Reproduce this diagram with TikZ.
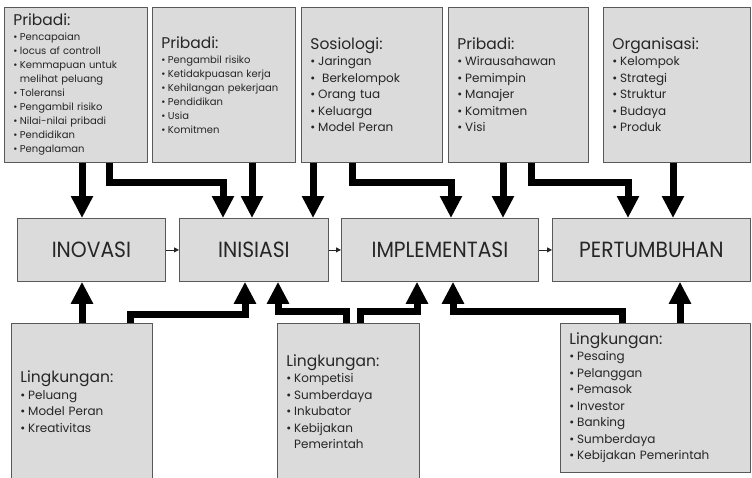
\documentclass[tikz,border=0pt]{standalone}
\usepackage{fontspec}
\setmainfont{Poppins}
\newfontfamily\condfont[FakeStretch=0.92]{Poppins}
\usetikzlibrary{arrows.meta}
\newcommand\itS{\fontsize{10}{14}\selectfont}
\newcommand\itL{\fontsize{12}{16.5}\selectfont}
\newcommand\hd{\fontsize{15.5}{18}\selectfont}
\newcommand\bl{\makebox[0.65em][l]{\textbullet}}
\tikzset{
  box/.style={draw=black!65, fill=black!14, line width=0.8pt, anchor=north west,
    inner xsep=9pt, inner ysep=0pt, align=left, text=black!85},
  big/.style={line width=7pt, -{Triangle[width=21pt,length=22pt]}},
  thinarr/.style={line width=0.8pt, black!85, -{Triangle[width=5pt,length=5pt]}},
  stage/.style={draw=black!65, fill=black!14, line width=0.8pt, anchor=north west,
    minimum height=63pt, inner sep=0pt, font=\condfont\fontsize{22}{24}\selectfont, text=black!85},
}
\begin{document}
\begin{tikzpicture}[x=1pt,y=-1pt]
\useasboundingbox (0,0) rectangle (752,477);
\fill[white] (0,0) rectangle (752,477);
% top boxes
\node[box, minimum width=143, minimum height=155, text width=125, font=\itS] (t1) at (4,7)
 {{\hd Pribadi:}\\[1pt]
  \bl Pencapaian\\
  \bl locus af controll\\
  \bl Kemmapuan untuk\\
  \hspace*{0.65em}melihat peluang\\
  \bl Toleransi\\
  \bl Pengambil risiko\\
  \bl Nilai-nilai pribadi\\
  \bl Pendidikan\\
  \bl Pengalaman};
\node[box, minimum width=143, minimum height=155, text width=125, font=\itS] (t2) at (152,7)
 {{\hd Pribadi:}\\[1pt]
  \bl Pengambil risiko\\
  \bl Ketidakpuasan kerja\\
  \bl Kehilangan pekerjaan\\
  \bl Pendidikan\\
  \bl Usia\\
  \bl Komitmen};
\node[box, minimum width=141, minimum height=155, text width=123, font=\itL] (t3) at (301,7)
 {{\hd Sosiologi:}\\
  \bl Jaringan\\
  \bl\ Berkelompok\\
  \bl Orang tua\\
  \bl Keluarga\\
  \bl Model Peran};
\node[box, minimum width=140, minimum height=155, text width=122, font=\itL] (t4) at (448,7)
 {{\hd Pribadi:}\\
  \bl Wirausahawan\\
  \bl Pemimpin\\
  \bl Manajer\\
  \bl Komitmen\\
  \bl Visi};
\node[box, minimum width=147, minimum height=155, text width=129, font=\itL] (t5) at (603,7)
 {{\hd Organisasi:}\\
  \bl Kelompok\\
  \bl Strategi\\
  \bl Struktur\\
  \bl Budaya\\
  \bl Produk};
% stages
\node[stage, minimum width=148] (m1) at (17,218) {INOVASI};
\node[stage, minimum width=149] (m2) at (179,218) {INISIASI};
\node[stage, minimum width=197] (m3) at (341,218) {IMPLEMENTASI};
\node[stage, minimum width=198] (m4) at (552,218) {PERTUMBUHAN};
% bottom boxes
\node[box, minimum width=141, minimum height=156, text width=123, font=\itL] (b1) at (11,323)
 {{\hd Lingkungan:}\\
  \bl Peluang\\
  \bl Model Peran\\
  \bl Kreativitas};
\node[box, minimum width=142, minimum height=156, text width=124, font=\itL] (b2) at (277,323)
 {{\hd Lingkungan:}\\
  \bl Kompetisi\\
  \bl Sumberdaya\\
  \bl Inkubator\\
  \bl Kebijakan\\
  \hspace*{0.65em}Pemerintah};
\node[box, minimum width=190, minimum height=149, text width=172, font=\itL] (b3) at (560,323)
 {{\hd Lingkungan:}\\
  \bl Pesaing\\
  \bl Pelanggan\\
  \bl Pemasok\\
  \bl Investor\\
  \bl Banking\\
  \bl Sumberdaya\\
  \bl Kebijakan Pemerintah};
% stage-to-stage arrows
\draw[thinarr] (m1.east) -- (m2.west);
\draw[thinarr] (m2.east) -- (m3.west);
\draw[thinarr] (m3.east) -- (m4.west);
% top connectors
\draw[big] ([xshift=78]t1.south west) -- ([xshift=65]m1.north west);
\draw[big] ([xshift=105]t1.south west) -- ++(0,20) -| ([xshift=44]m2.north west);
\draw[big] ([xshift=100]t2.south west) -- ([xshift=73]m2.north west);
\draw[big] ([xshift=12]t3.south west) -- ([xshift=134]m2.north west);
\draw[big] ([xshift=51]t3.south west) -- ++(0,20) -| ([xshift=110]m3.north west);
\draw[big] ([xshift=55]t4.south west) -- ([xshift=162]m3.north west);
\draw[big] ([xshift=83]t4.south west) -- ++(0,20) -| ([xshift=76]m4.north west);
\draw[big] ([xshift=70]t5.south west) -- ([xshift=121]m4.north west);
% bottom connectors
\draw[big] ([xshift=71]b1.north west) -- ([xshift=65]m1.south west);
\draw[big] ([xshift=119]b1.north west) -- ++(0,-9) -| ([xshift=66]m2.south west);
\draw[big] ([xshift=69]b2.north west) -- ++(0,-12) -| ([xshift=99]m2.south west);
\draw[big] ([xshift=83]b2.north west) -- ++(0,-12) -| ([xshift=76]m3.south west);
\draw[big] ([xshift=62]b3.north west) -- ++(0,-12) -| ([xshift=112]m3.south west);
\draw[big] ([xshift=120]b3.north west) -- ([xshift=128]m4.south west);
\end{tikzpicture}
\end{document}
